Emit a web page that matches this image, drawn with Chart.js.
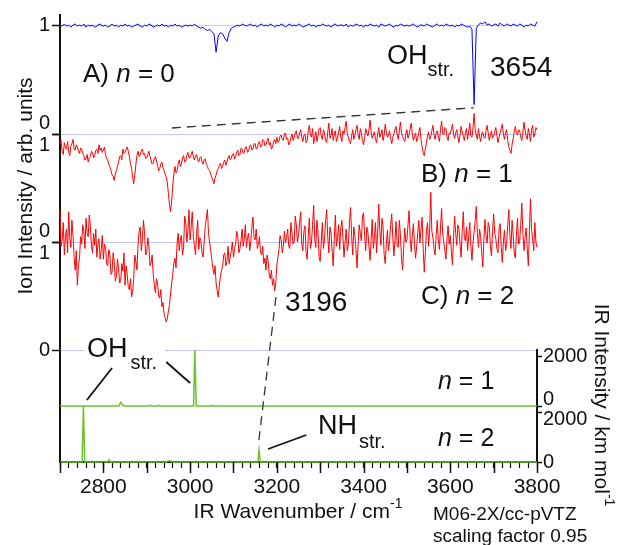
<!DOCTYPE html>
<html>
<head>
  <meta charset="utf-8">
  <title>Espectros IR n = 0, 1, 2</title>
  <script src="https://cdn.jsdelivr.net/npm/chart.js"></script>
  <style>
    body { margin: 0; background: #fff; }
  </style>
</head>
<body>
  <canvas id="myChart" width="621" height="545"></canvas>

  <script>
    // Numero de onda: A cada 5 cm-1, B y C cada 2.5 cm-1
    var wnA = [];
    for (var w = 2700; w <= 3800; w += 5) wnA.push(w);
    var wnBC = [];
    for (var w2 = 2700; w2 <= 3800; w2 += 2.5) wnBC.push(w2);

    // A) n = 0
    var specA = [
      1.00, 0.99, 1.01, 0.99, 1.00, 0.98, 1.00, 1.01, 0.99, 1.00,
      0.99, 1.01, 0.98, 1.00, 0.99, 1.00, 0.98, 0.99, 1.01, 1.00,
      0.99, 1.00, 0.98, 0.99, 1.01, 0.99, 1.00, 0.98, 1.00, 0.99,
      1.01, 0.99, 1.00, 0.98, 0.99, 1.00, 1.01, 0.99, 0.98, 1.00,
      0.99, 1.01, 1.00, 0.98, 0.99, 1.00, 0.99, 1.01, 0.99, 1.00,
      0.98, 1.00, 0.99, 1.01, 0.99, 1.00, 0.98, 0.99, 1.00, 0.99,
      1.00, 0.99, 1.01, 0.99, 0.98, 0.97, 0.98, 0.96, 0.95, 0.96,
      0.94, 0.92, 0.75, 0.90, 0.93, 0.92, 0.88, 0.85, 0.93, 0.97,
      0.98, 0.99, 1.00, 0.99, 1.01, 1.00, 0.99, 1.00, 1.01, 0.99,
      1.00, 0.98, 1.00, 1.01, 0.99, 1.00, 0.99, 1.01, 1.00, 0.98,
      1.00, 0.99, 1.01, 1.00, 0.98, 1.00, 1.01, 0.99, 1.00, 0.99,
      1.01, 1.00, 0.98, 0.99, 1.00, 1.01, 0.99, 1.00, 0.98, 1.00,
      0.99, 1.01, 1.00, 0.99, 1.00, 0.98, 1.00, 1.01, 0.99, 1.00,
      1.00, 0.99, 1.01, 0.98, 1.00, 0.99, 1.00, 1.01, 0.99, 1.00,
      0.98, 1.00, 0.99, 1.01, 1.00, 0.99, 1.00, 0.98, 1.01, 1.00,
      0.99, 1.00, 1.01, 0.99, 0.98, 1.00, 0.99, 1.01, 1.00, 0.99,
      1.00, 0.99, 1.00, 1.01, 0.99, 0.98, 1.00, 1.00, 0.99, 1.01,
      1.00, 0.99, 0.98, 1.00, 1.01, 0.99, 1.00, 0.99, 1.01, 1.00,
      0.99, 1.00, 0.98, 1.00, 0.99, 1.01, 1.00, 0.99, 0.98, 0.99,
      0.96, 0.27, 0.97, 1.00, 1.02, 1.01, 1.03, 1.00, 1.01, 0.99,
      1.00, 1.01, 0.99, 1.02, 1.00, 0.99, 1.01, 1.00, 0.99, 1.01,
      1.00, 0.99, 1.01, 1.00, 0.98, 1.00, 0.99, 1.01, 1.00, 0.99,
      1.03
    ];

    // B) n = 1 (una fila = 50 cm-1)
    var specB = [
      0.90, 0.94, 0.84, 0.81, 0.92, 0.87, 0.86, 0.93, 0.83, 0.80, 0.89, 0.91, 0.95, 0.86, 0.85, 0.90, 0.88, 0.84, 0.82, 0.87,
      0.86, 0.82, 0.80, 0.76, 0.77, 0.81, 0.74, 0.78, 0.79, 0.84, 0.83, 0.78, 0.80, 0.85, 0.86, 0.82, 0.90, 0.85, 0.87, 0.83,
      0.85, 0.88, 0.81, 0.77, 0.76, 0.72, 0.70, 0.66, 0.62, 0.61, 0.57, 0.63, 0.66, 0.70, 0.74, 0.79, 0.80, 0.76, 0.86, 0.82,
      0.83, 0.86, 0.88, 0.84, 0.79, 0.72, 0.68, 0.60, 0.54, 0.62, 0.72, 0.80, 0.84, 0.79, 0.80, 0.85, 0.86, 0.81, 0.82, 0.77,
      0.78, 0.81, 0.84, 0.79, 0.76, 0.72, 0.73, 0.77, 0.79, 0.75, 0.71, 0.66, 0.68, 0.72, 0.74, 0.69, 0.66, 0.63, 0.60, 0.55,
      0.45, 0.34, 0.28, 0.38, 0.52, 0.63, 0.70, 0.64, 0.66, 0.72, 0.76, 0.70, 0.72, 0.78, 0.80, 0.74, 0.75, 0.80, 0.83, 0.78,
      0.78, 0.81, 0.84, 0.79, 0.76, 0.80, 0.81, 0.76, 0.74, 0.78, 0.79, 0.74, 0.72, 0.76, 0.77, 0.72, 0.70, 0.67, 0.66, 0.63,
      0.60, 0.57, 0.54, 0.59, 0.62, 0.66, 0.68, 0.71, 0.73, 0.68, 0.70, 0.74, 0.76, 0.71, 0.74, 0.78, 0.80, 0.76, 0.77, 0.81,
      0.82, 0.77, 0.79, 0.83, 0.85, 0.80, 0.81, 0.87, 0.86, 0.82, 0.83, 0.88, 0.88, 0.83, 0.84, 0.89, 0.90, 0.85, 0.86, 0.91,
      0.91, 0.86, 0.87, 0.92, 0.93, 0.88, 0.89, 0.95, 0.94, 0.89, 0.90, 0.94, 0.96, 0.90, 0.92, 0.86, 0.88, 0.93, 0.95, 0.91,
      0.97, 0.92, 0.93, 0.98, 0.99, 0.95, 0.94, 1.00, 1.01, 0.95, 0.96, 0.90, 0.92, 0.97, 1.00, 0.94, 0.97, 1.01, 1.03, 0.96,
      0.96, 1.01, 1.04, 0.97, 0.93, 0.99, 1.00, 0.92, 0.94, 1.03, 1.08, 0.99, 0.97, 1.05, 0.91, 0.97, 1.02, 0.93, 0.98, 1.05,
      1.06, 0.98, 0.95, 1.04, 1.01, 0.94, 0.92, 1.02, 1.10, 0.96, 0.99, 1.05, 0.94, 1.00, 1.03, 0.93, 0.96, 1.02, 1.07, 0.97,
      0.93, 1.03, 1.00, 1.06, 1.12, 1.00, 0.97, 0.93, 0.91, 0.98, 1.04, 0.95, 0.99, 1.04, 1.08, 0.99, 0.95, 1.05, 1.01, 0.94,
      0.90, 0.97, 1.05, 1.01, 0.98, 1.04, 1.13, 1.02, 0.96, 0.99, 1.02, 0.95, 0.92, 1.00, 1.06, 0.97, 1.00, 1.04, 0.94, 0.99,
      1.09, 1.02, 0.97, 0.99, 1.03, 0.96, 0.91, 0.97, 1.00, 1.04, 1.07, 1.00, 0.95, 1.03, 1.11, 1.01, 0.98, 0.95, 0.93, 1.00,
      1.04, 0.96, 0.99, 1.05, 1.10, 1.00, 0.94, 0.98, 1.01, 0.93, 0.96, 1.02, 1.06, 0.95, 0.88, 0.83, 0.80, 0.86, 0.92, 0.98,
      1.02, 0.95, 0.97, 1.03, 1.08, 0.99, 0.95, 1.01, 1.03, 0.97, 0.93, 1.04, 1.12, 1.00, 0.99, 1.06, 1.05, 0.97, 0.94, 1.01,
      1.00, 1.04, 1.09, 1.00, 0.96, 1.01, 1.04, 0.97, 0.92, 0.99, 1.07, 1.02, 0.98, 0.94, 1.01, 1.05, 0.95, 1.02, 1.10, 0.98,
      0.97, 1.06, 1.19, 1.04, 0.99, 0.95, 1.05, 0.98, 0.93, 1.00, 1.02, 0.97, 0.96, 1.03, 1.08, 1.01, 0.94, 0.99, 1.03, 0.96,
      0.98, 1.02, 1.06, 0.99, 0.92, 0.97, 1.01, 1.05, 1.09, 1.00, 0.95, 1.01, 1.04, 0.94, 0.88, 0.85, 0.82, 0.90, 0.96, 1.02,
      1.07, 1.01, 0.99, 1.04, 1.03, 0.97, 0.94, 1.02, 1.11, 1.03, 0.98, 0.95, 1.05, 1.00, 0.93, 1.04, 1.08, 0.97, 1.00, 1.06,
      1.04
    ];

    // C) n = 2 (una fila = 50 cm-1)
    var specC = [
      1.30, 0.96, 1.02, 1.18, 0.88, 1.05, 1.12, 0.90, 1.28, 1.04, 0.95, 1.20, 1.06, 0.86, 0.74, 0.92, 0.60, 0.78, 0.85, 1.05,
      0.98, 1.16, 1.10, 0.94, 1.22, 1.08, 1.05, 1.25, 1.15, 0.96, 0.90, 1.08, 0.97, 1.12, 0.86, 0.98, 1.03, 0.84, 0.92, 1.06,
      0.84, 0.98, 0.96, 0.80, 0.78, 0.93, 0.88, 0.70, 0.72, 0.90, 0.82, 0.64, 0.68, 0.84, 0.76, 0.62, 0.64, 0.80, 0.73, 0.90,
      0.60, 0.78, 0.70, 0.58, 0.56, 0.66, 0.49, 0.54, 0.66, 0.88, 0.82, 0.74, 0.98, 1.10, 1.14, 0.92, 1.02, 1.20, 1.08, 0.88,
      0.90, 1.04, 0.96, 0.78, 0.81, 0.88, 0.70, 0.60, 0.53, 0.66, 0.62, 0.50, 0.48, 0.56, 0.40, 0.44, 0.33, 0.30, 0.26, 0.29,
      0.36, 0.42, 0.52, 0.62, 0.70, 0.80, 0.85, 0.76, 0.99, 1.08, 0.92, 1.02, 1.06, 0.88, 0.95, 1.24, 1.18, 1.00, 1.11, 1.30,
      1.02, 1.14, 1.28, 1.05, 0.97, 0.88, 1.08, 1.20, 0.93, 1.04, 1.01, 0.90, 0.86, 1.00, 1.15, 1.22, 1.30, 1.08, 1.00, 0.92,
      0.84, 0.76, 0.70, 0.78, 0.62, 0.55, 0.49, 0.60, 0.68, 0.74, 0.77, 0.88, 0.90, 0.78, 0.82, 0.96, 0.80, 0.86, 0.92, 1.00,
      0.86, 0.94, 0.98, 1.10, 1.05, 0.90, 0.94, 1.02, 1.12, 0.96, 1.03, 1.16, 0.95, 1.04, 1.08, 0.92, 1.00, 1.14, 1.23, 1.04,
      1.02, 1.12, 0.94, 0.98, 1.05, 0.90, 0.88, 0.96, 0.80, 0.85, 0.74, 0.88, 0.82, 0.70, 0.66, 0.74, 0.60, 0.66, 0.55, 0.62,
      0.78, 0.86, 0.93, 1.06, 1.02, 0.90, 0.96, 1.10, 0.99, 1.04, 1.12, 0.96, 0.94, 1.18, 1.08, 0.98, 1.00, 1.24, 1.16, 1.00,
      1.05, 1.18, 1.28, 0.98, 0.92, 1.10, 1.15, 0.90, 0.84, 1.06, 1.22, 0.94, 1.00, 1.16, 1.34, 1.02, 0.95, 1.20, 1.10, 0.86,
      0.82, 1.00, 1.18, 0.94, 1.02, 1.20, 1.30, 1.04, 0.90, 1.14, 1.08, 0.92, 0.78, 1.02, 1.25, 0.96, 1.04, 1.16, 0.93, 1.12,
      1.20, 1.04, 0.86, 1.00, 1.12, 0.92, 0.98, 1.18, 1.32, 1.06, 0.88, 1.14, 1.06, 0.94, 0.76, 0.98, 1.16, 1.08, 1.01, 1.24,
      1.27, 1.06, 0.92, 1.14, 1.09, 0.96, 0.83, 1.02, 1.21, 0.94, 1.03, 1.18, 0.90, 1.08, 1.35, 1.10, 0.97, 1.22, 1.14, 0.88,
      0.80, 0.98, 1.11, 0.92, 1.00, 1.16, 1.26, 1.04, 0.87, 1.02, 1.19, 0.96, 0.95, 1.20, 1.07, 0.86, 0.74, 0.94, 1.13, 1.00,
      1.02, 1.16, 1.29, 1.04, 0.91, 1.06, 1.17, 0.98, 0.85, 0.96, 1.08, 1.20, 0.99, 1.12, 1.23, 0.94, 0.72, 0.90, 1.10, 1.18,
      0.96, 1.12, 1.46, 1.10, 1.04, 0.94, 0.88, 1.06, 1.20, 1.02, 0.93, 1.14, 1.31, 1.08, 1.00, 0.92, 0.84, 1.04, 1.15, 0.98,
      1.06, 0.92, 0.79, 1.04, 1.24, 1.08, 0.97, 1.16, 1.12, 0.98, 0.86, 1.10, 1.28, 1.04, 1.01, 1.14, 0.92, 1.06, 1.18, 0.96,
      0.83, 1.00, 1.09, 1.20, 1.33, 1.08, 0.95, 1.12, 1.05, 0.90, 0.77, 1.02, 1.21, 1.06, 0.99, 1.18, 1.14, 0.96, 0.87, 1.10,
      1.26, 1.08, 1.03, 0.94, 0.90, 1.12, 1.17, 0.96, 0.81, 1.00, 1.11, 0.92, 0.98, 1.16, 1.30, 1.06, 0.94, 1.20, 1.07, 0.90,
      0.85, 1.06, 1.22, 0.98, 1.00, 1.16, 1.36, 1.08, 0.92, 1.04, 1.13, 0.94, 0.78, 1.10, 1.40, 1.12, 1.02, 0.92, 1.18, 1.00,
      0.95
    ];

    // Espectros calculados (M06-2X/cc-pVTZ), km mol-1
    var wnCalc1 = [2700, 2836, 2840, 2844, 2848, 2905, 2908, 2912, 2925, 2928, 2932, 3008, 3011, 3014, 3048, 3051, 3054, 3800];
    var intCalc1 = [0, 0, 140, 40, 0, 0, 25, 0, 0, 30, 0, 0, 2250, 0, 0, 25, 0, 0];
    var wnCalc2 = [2700, 2751, 2754, 2757, 2810, 2813, 2816, 2880, 2883, 2886, 2945, 2950, 2955, 2960, 3156, 3159, 3162, 3375, 3378, 3381, 3800];
    var intCalc2 = [0, 0, 2250, 0, 0, 90, 0, 0, 20, 0, 0, 50, 40, 0, 0, 480, 0, 0, 30, 0, 0];

    // Lineas guia (en unidades de los ejes)
    var guideAx = [2958, 3654], guideAy = [0.055, 0.24];
    var guideCx = [3198, 3157], guideCy = [0.49, -0.89];
    var leadOH1x = [2762, 2820], leadOH1y = [241, 1527];
    var leadOH2x = [2945, 3000], leadOH2y = [1768, 924];
    var leadNHx = [3180, 3268], leadNHy = [522, 1085];

    var FONT = '"Liberation Sans", Arial, sans-serif';

    function pts(xs, ys) {
      return xs.map(function (x, i) { return { x: x, y: ys[i] }; });
    }

    function traza(data, color, eje, ancho, dash) {
      return {
        data: data,
        borderColor: color,
        borderWidth: ancho,
        borderDash: dash || [],
        pointRadius: 0,
        tension: 0,
        clip: false,
        xAxisID: 'x',
        yAxisID: eje
      };
    }

    // texto con partes de distinta fuente (cursiva, subindice...)
    function partes(ctx, x, y, lista) {
      ctx.textBaseline = 'middle';
      ctx.textAlign = 'left';
      lista.forEach(function (p) {
        ctx.font = p[1];
        ctx.fillText(p[0], x, y + (p[2] || 0));
        x += ctx.measureText(p[0]).width + (p[3] || 0);
      });
    }

    function ancho(ctx, lista) {
      var t = 0;
      lista.forEach(function (p) { ctx.font = p[1]; t += ctx.measureText(p[0]).width + (p[3] || 0); });
      return t;
    }

    var f = function (s, it) { return (it ? 'italic ' : '') + s + 'px ' + FONT; };

    var textos = {
      id: 'textos',
      beforeDatasetsDraw: function (chart) {
        var ctx = chart.ctx;
        ctx.save();
        ctx.fillStyle = '#fff';
        ctx.fillRect(85, 345, 80, 10); // fondo del rotulo OH abajo
        ctx.restore();
      },
      afterDraw: function (chart) {
        var ctx = chart.ctx;
        var x = chart.scales.x;
        var bottom = chart.chartArea.bottom;
        ctx.save();

        // marcas mayores del eje x
        ctx.strokeStyle = '#111';
        ctx.lineWidth = 1.5;
        for (var v = 2700; v <= 3800; v += 100) {
          var px = Math.round(x.getPixelForValue(v)) + 0.5;
          ctx.beginPath();
          ctx.moveTo(px, bottom);
          ctx.lineTo(px, bottom + 11);
          ctx.stroke();
        }

        ctx.fillStyle = '#111';
        partes(ctx, 83, 75, [['A) ', f(26)], ['n', f(26, true)], [' = 0', f(26)]]);
        partes(ctx, 421, 175, [['B) ', f(26)], ['n', f(26, true)], [' = 1', f(26)]]);
        partes(ctx, 421, 297, [['C) ', f(26)], ['n', f(26, true)], [' = 2', f(26)]]);
        partes(ctx, 438, 382, [['n', f(25, true)], [' = 1', f(25)]]);
        partes(ctx, 438, 439, [['n', f(25, true)], [' = 2', f(25)]]);
        partes(ctx, 387, 57, [['OH', f(27)], ['str.', f(20), 13]]);
        partes(ctx, 87, 350, [['OH', f(27), 0, 3], ['str.', f(20), 13]]);
        partes(ctx, 318, 427, [['NH', f(27), 0, 2], ['str.', f(20), 15]]);
        partes(ctx, 490, 68, [['3654', f(28)]]);
        partes(ctx, 285, 303, [['3196', f(28)]]);
        partes(ctx, 433, 515, [['M06-2X/cc-pVTZ', f(19)]]);
        partes(ctx, 433, 537, [['scaling factor 0.95', f(19)]]);

        // titulo eje x
        var tx = [['IR Wavenumber / cm', f(21)], ['-1', f(14), -8]];
        partes(ctx, 298 - ancho(ctx, tx) / 2, 512, tx);

        // titulo eje izquierdo
        ctx.save();
        ctx.translate(26, 186);
        ctx.rotate(-Math.PI / 2);
        var ti = [['Ion Intensity / arb. units', f(21)]];
        partes(ctx, -ancho(ctx, ti) / 2, 0, ti);
        ctx.restore();

        // titulo eje derecho
        ctx.save();
        ctx.translate(601, 405);
        ctx.rotate(Math.PI / 2);
        var td = [['IR Intensity / km mol', f(21)], ['-1', f(14), -8]];
        partes(ctx, -ancho(ctx, td) / 2, 0, td);
        ctx.restore();

        ctx.restore();
      }
    };

    var negro = '#111';
    var azulClaro = '#c8c8f5';

    function sinRelleno(s) {
      s.paddingTop = 0;
      s.paddingBottom = 0;
    }

    function ejeIzq(peso, max, etiquetas, grid) {
      return {
        type: 'linear',
        position: 'left',
        stack: 'izq',
        stackWeight: peso,
        min: 0,
        max: max,
        afterBuildTicks: function (s) {
          s.ticks = etiquetas ? [{ value: 0 }, { value: 1 }] : [];
        },
        ticks: {
          display: !!etiquetas,
          autoSkip: false,
          padding: 2,
          color: negro,
          font: { family: FONT, size: 20, lineHeight: 1.1 },
          callback: function (v) { return etiquetas ? etiquetas[v] : ''; }
        },
        grid: { display: grid, color: azulClaro, tickColor: negro, tickLength: 8, lineWidth: 1, tickWidth: 1.5 },
        border: { color: negro, width: 2 },
        afterFit: function (s) { s.width = 60; sinRelleno(s); }
      };
    }

    function ejeDer(peso, etiquetas, visible) {
      return {
        type: 'linear',
        position: 'right',
        stack: 'der',
        stackWeight: peso,
        min: 0,
        max: 2250,
        afterBuildTicks: function (s) {
          s.ticks = visible ? [{ value: 0 }, { value: 2000 }] : [];
        },
        ticks: {
          display: visible,
          autoSkip: false,
          padding: 1,
          color: negro,
          font: { family: FONT, size: 20, lineHeight: 0.7 },
          callback: function (v) { return etiquetas ? etiquetas[v] : ''; }
        },
        grid: { display: visible, drawOnChartArea: false, tickColor: negro, tickLength: 5, tickWidth: 1.5 },
        border: { display: visible, color: negro, width: 2 },
        afterFit: function (s) { s.width = 84; sinRelleno(s); }
      };
    }

    var ctx = document.getElementById('myChart').getContext('2d');
    var myChart = new Chart(ctx, {
      type: 'line',
      data: {
        datasets: [
          traza(pts(guideAx, guideAy), '#333', 'yA', 1.3, [9, 6]),
          traza(pts(guideCx, guideCy), '#333', 'yC', 1.3, [9, 6]),
          traza(pts(leadOH1x, leadOH1y), '#111', 'yN1', 1.8),
          traza(pts(leadOH2x, leadOH2y), '#111', 'yN1', 1.8),
          traza(pts(leadNHx, leadNHy), '#111', 'yN2', 1.8),
          traza(pts(wnA, specA), '#0000ff', 'yA', 1),
          traza(pts(wnBC, specB), '#ff0000', 'yB', 1),
          traza(pts(wnBC, specC), '#ff0000', 'yC', 1),
          traza(pts(wnCalc1, intCalc1), '#6ac42e', 'yN1', 1.5),
          traza(pts(wnCalc2, intCalc2), '#6ac42e', 'yN2', 1.5)
        ]
      },
      options: {
        responsive: false,
        animation: false,
        events: [],
        layout: { padding: { top: 15, left: 0, right: 0, bottom: 0 } },
        plugins: { legend: { display: false }, tooltip: { enabled: false } },
        scales: {
          x: {
            type: 'linear',
            position: 'bottom',
            min: 2700,
            max: 3800,
            ticks: {
              stepSize: 20,
              autoSkip: false,
              maxRotation: 0,
              padding: 7,
              color: negro,
              font: { family: FONT, size: 21 },
              callback: function (v) { return (v % 200 === 0 && v !== 2700) ? String(v) : ''; }
            },
            grid: { drawOnChartArea: false, tickColor: negro, tickLength: 6, tickWidth: 1.2 },
            border: { color: negro, width: 2 },
            afterFit: function (s) { s.height = 83; s.paddingLeft = 0; s.paddingRight = 0; }
          },
          // los ejes de la izquierda se apilan del ultimo (arriba) al primero
          yL4: ejeIzq(112, 1, null, false),
          yC: ejeIzq(108, 1, { 0: '0', 1: ['', '1'] }, true),
          yB: ejeIzq(108, 1, { 0: ['0', ''], 1: ['', '1'] }, true),
          yA: ejeIzq(119, 1.092, { 0: ['0', ''], 1: '1' }, true),
          yRtop: ejeDer(335, null, false),
          yN1: ejeDer(56, { 0: ['0', ''], 2000: '2000' }, true),
          yN2: ejeDer(56, { 0: '0', 2000: ['', '2000'] }, true)
        }
      },
      plugins: [textos]
    });
  </script>
</body>
</html>
